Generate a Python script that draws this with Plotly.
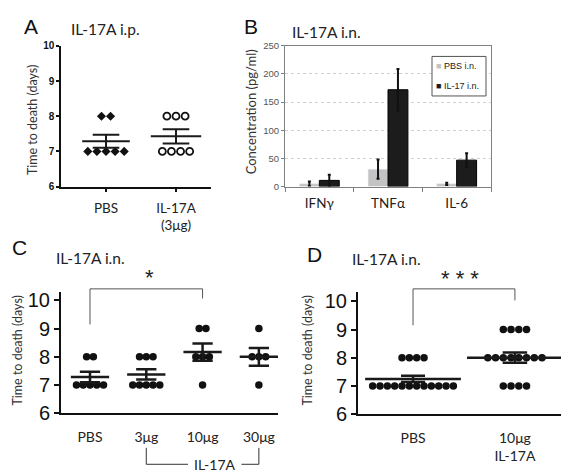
import numpy as np
import plotly.graph_objects as go

W, H = 569, 475

# ---------------- data ----------------
# Panel A: IL-17A i.p. (time to death, days)
a_groups = ["PBS", "IL-17A<br>(3μg)"]
a_pbs = [8, 8, 7, 7, 7, 7, 7]
a_il17 = [8, 8, 8, 7, 7, 7, 7]

# Panel B: cytokine concentration (pg/ml)
b_cats = ["IFNγ", "TNFα", "IL-6"]
b_pbs = [5, 31, 5]
b_pbs_err = [4, 17, 2]
b_il17 = [11, 172, 47]
b_il17_err = [10, 37, 12]

# Panel C: IL-17A i.n. dose
c_groups = ["PBS", "3μg", "10μg", "30μg"]
c_pbs = [8, 8, 7, 7, 7, 7, 7]
c_3ug = [8, 8, 8, 7, 7, 7, 7, 7]
c_10ug = [9, 9, 8, 8, 8, 7]
c_30ug = [9, 8, 8, 8, 7]

# Panel D: IL-17A i.n. 10 µg
d_groups = ["PBS", "10μg<br>IL-17A"]
d_pbs = [8, 8, 8, 8, 7, 7, 7, 7, 7, 7, 7, 7, 7, 7, 7, 7]
d_il17 = [9, 9, 9, 9, 8, 8, 8, 8, 8, 8, 8, 8, 7, 7, 7, 7]

TXT = "Lato"
ARIAL = "Liberation Sans"


def px(p):
    return p / W


def py(p):
    return 1 - p / H


def swarm(vals, center, step):
    xs, ys = [], []
    for v in sorted(set(vals), reverse=True):
        n = vals.count(v)
        for i in range(n):
            xs.append(center + (i - (n - 1) / 2) * step)
            ys.append(v)
    return xs, ys


def mean_sem(vals):
    a = np.array(vals, float)
    return a.mean(), a.std(ddof=1) / np.sqrt(len(a))


fig = go.Figure()


def add_group(vals, center, step, xa, ya, hw, cw, lw, marker):
    xs, ys = swarm(vals, center, step)
    fig.add_trace(go.Scatter(x=xs, y=ys, mode="markers", marker=marker,
                             xaxis=xa, yaxis=ya, showlegend=False, hoverinfo="skip"))
    m, s = mean_sem(vals)
    fig.add_trace(go.Scatter(
        x=[center - hw, center + hw, None, center - cw, center + cw, None,
           center - cw, center + cw, None, center, center],
        y=[m, m, None, m + s, m + s, None, m - s, m - s, None, m - s, m + s],
        mode="lines", line=dict(color="#1a1a1a", width=lw),
        xaxis=xa, yaxis=ya, showlegend=False, hoverinfo="skip"))


# ---- Panel A ----
add_group(a_pbs, 0, 0.13, "x", "y", 0.34, 0.19, 2,
          dict(symbol="diamond", size=7, color="#111"))
add_group(a_il17, 1, 0.13, "x", "y", 0.36, 0.19, 2,
          dict(symbol="circle-open", size=7, color="#111", line=dict(width=1.8)))

# ---- Panel B ----
fig.add_trace(go.Bar(x=b_cats, y=b_pbs, name="PBS i.n.", marker_color="#c3c3c3",
                     error_y=dict(type="data", array=b_pbs_err, color="#111", thickness=2, width=1.5),
                     xaxis="x2", yaxis="y2", showlegend=False))
fig.add_trace(go.Bar(x=b_cats, y=b_il17, name="IL-17 i.n.", marker_color="#1c1c1c",
                     marker_line=dict(color="#000", width=1),
                     error_y=dict(type="data", array=b_il17_err, color="#111", thickness=2, width=1.5),
                     xaxis="x2", yaxis="y2", showlegend=False))

# ---- Panel C ----
dot = dict(symbol="circle", size=7.5, color="#111")
for i, vals in enumerate([c_pbs, c_3ug, c_10ug, c_30ug]):
    add_group(vals, i, 0.12, "x3", "y3", 0.34, 0.18, 2.5, dot)

# ---- Panel D ----
add_group(d_pbs, 0, 0.072, "x4", "y4", 0.47, 0.118, 2.5, dot)
add_group(d_il17, 1, 0.076, "x4", "y4", 0.47, 0.12, 2.5, dot)

# ---------------- axes ----------------
ydomA = [py(179), py(33)]
ydomC = [py(414), py(288)]
ydomD = [py(415), py(288)]
rngC = [6, 10.31]
rngD = [6, 10.34]

common = dict(showgrid=False, zeroline=False, showline=True)

fig.update_layout(
    width=W, height=H, margin=dict(l=0, r=0, t=0, b=0),
    paper_bgcolor="white", plot_bgcolor="white",
    barmode="group", bargap=0.42, bargroupgap=0,
    showlegend=False,
    xaxis=dict(domain=[px(53), px(203)], range=[-0.643, 1.5], tickvals=[0, 1], ticktext=a_groups,
               linecolor="#111", linewidth=1.5, ticks="outside", ticklen=4, tickwidth=1.5,
               tickcolor="#111", tickfont=dict(family=TXT, size=13.5, color="#222"),
               ticklabelstandoff=4, anchor="y", **common),
    yaxis=dict(domain=ydomA, range=[6, 10], dtick=1, linecolor="#111", linewidth=1.5,
               ticks="outside", ticklen=3, tickwidth=1.5, tickcolor="#111",
               tickfont=dict(family=ARIAL, size=10, color="#111", weight="bold"),
               anchor="x", **common),
    xaxis2=dict(domain=[px(277), px(483)], range=[-0.5, 2.5], type="category",
                linecolor="#808080", linewidth=1, mirror=True, ticks="outside",
                tickson="boundaries", ticklen=4, tickcolor="#808080",
                tickfont=dict(family=TXT, size=13.5, color="#222"), ticklabelstandoff=4,
                anchor="y2", showgrid=False, zeroline=False, showline=True),
    yaxis2=dict(domain=ydomA, range=[0, 250], dtick=50, linecolor="#808080", linewidth=1,
                mirror=True, ticks="outside", ticklen=3, tickcolor="#808080",
                showgrid=True, gridcolor="#d0d0d0", griddash="dot", gridwidth=1,
                tickfont=dict(family=ARIAL, size=9.5, color="#555"),
                anchor="x2", zeroline=False, showline=True),
    xaxis3=dict(domain=[px(53), px(270)], range=[-0.515, 3.34], tickvals=[0, 1, 2, 3],
                ticktext=c_groups, linecolor="#111", linewidth=2, ticks="",
                tickfont=dict(family=TXT, size=14, color="#222"), ticklabelstandoff=10,
                anchor="y3", **common),
    yaxis3=dict(domain=ydomC, range=rngC, tickvals=[6, 7, 8, 9, 10], linecolor="#111",
                linewidth=2, ticks="outside", ticklen=5, tickwidth=2, tickcolor="#111",
                tickfont=dict(family=ARIAL, size=20, color="#111"), anchor="x3", **common),
    xaxis4=dict(domain=[px(350), px(565)], range=[-0.54, 1.57], tickvals=[0, 1],
                ticktext=d_groups, linecolor="#111", linewidth=2, ticks="",
                tickfont=dict(family=TXT, size=14, color="#222"), ticklabelstandoff=10,
                anchor="y4", **common),
    yaxis4=dict(domain=ydomD, range=rngD, tickvals=[6, 7, 8, 9, 10], linecolor="#111",
                linewidth=2, ticks="outside", ticklen=5, tickwidth=2, tickcolor="#111",
                tickfont=dict(family=ARIAL, size=20, color="#111"), anchor="x4", **common),
)


def y2paper(v, dom, rng):
    return dom[0] + (v - rng[0]) / (rng[1] - rng[0]) * (dom[1] - dom[0])


ann = []
shapes = []


def text(x, y, s, size, family=TXT, color="#222", xanchor="left", xref="paper", angle=0):
    ann.append(dict(x=x, y=y, xref=xref, yref="paper", text=s, showarrow=False,
                    font=dict(family=family, size=size, color=color),
                    xanchor=xanchor, yanchor="middle", textangle=angle))


# panel letters and titles
text(px(14), py(13), "A", 21, ARIAL, "#111")
text(px(61), py(16), "IL-17A i.p.", 15.5)
text(px(234), py(13), "B", 21, ARIAL, "#111")
text(px(282), py(19), "IL-17A i.n.", 15.5)
text(px(2), py(242), "C", 21, ARIAL, "#111")
text(px(46), py(253), "IL-17A i.n.", 15.5)
text(px(297), py(249), "D", 21, ARIAL, "#111")
text(px(342), py(254), "IL-17A i.n.", 15.5)

# y-axis titles
text(px(24), py(110), "Time to death (days)", 12.5, TXT, "#333", "center", angle=-90)
text(px(243), py(102), "Concentration (pg/ml)", 13, TXT, "#333", "center", angle=-90)
text(px(10), py(349), "Time to death (days)", 12.5, TXT, "#333", "center", angle=-90)
text(px(300), py(349), "Time to death (days)", 12.5, TXT, "#333", "center", angle=-90)

# legend for panel B
shapes.append(dict(type="rect", xref="paper", yref="paper", x0=px(424), x1=px(478),
                   y0=py(85), y1=py(44), line=dict(color="#555", width=1), fillcolor="white"))
text(px(426), py(54), "<span style='color:#c3c3c3'>■</span> PBS i.n.", 9, ARIAL, "#222")
text(px(426), py(75), "<span style='color:#1c1c1c'>■</span> IL-17 i.n.", 9, ARIAL, "#222")

# significance brackets
def bracket(xa, x0, x1, yl, yr, ytop, dom, rng):
    shapes.append(dict(type="path", xref=xa, yref="paper",
                       path=f"M {x0},{y2paper(yl, dom, rng)} L {x0},{y2paper(ytop, dom, rng)} "
                            f"L {x1},{y2paper(ytop, dom, rng)} L {x1},{y2paper(yr, dom, rng)}",
                       line=dict(color="#555", width=1)))


bracket("x3", 0, 2, 9.15, 10.07, 10.41, ydomC, rngC)
text(1.05, y2paper(10.82, ydomC, rngC), "*", 22, ARIAL, "#222", "center", xref="x3")
bracket("x4", 0, 1, 9.15, 10.03, 10.44, ydomD, rngD)
text(0.46, y2paper(10.82, ydomD, rngD), "* * *", 22, ARIAL, "#222", "center", xref="x4")

# IL-17A dose bracket under panel C
yb0, yb1 = py(450), py(467)
shapes.append(dict(type="path", xref="x3", yref="paper",
                   path=f"M 1,{yb0} L 1,{yb1} L 1.74,{yb1}", line=dict(color="#333", width=1)))
shapes.append(dict(type="path", xref="x3", yref="paper",
                   path=f"M 2.69,{yb1} L 3,{yb1} L 3,{yb0}", line=dict(color="#333", width=1)))
text(2.22, yb1, "IL-17A", 14, TXT, "#222", "center", xref="x3")

fig.update_layout(annotations=ann, shapes=shapes)
fig.write_html("out.html")
